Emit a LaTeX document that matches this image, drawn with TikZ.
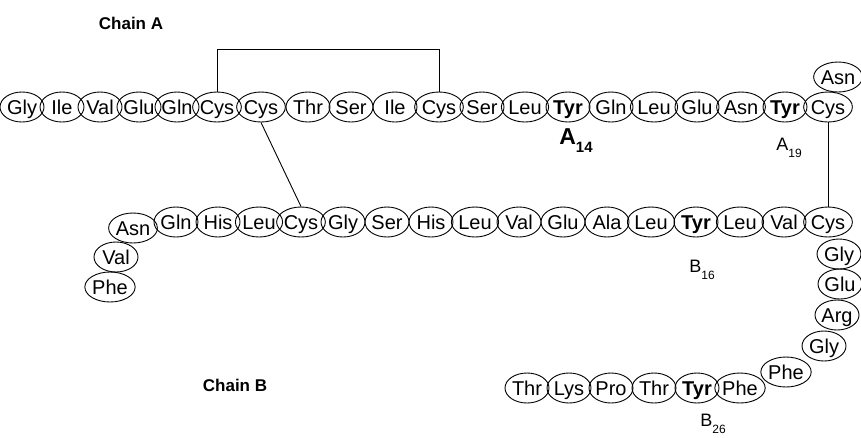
\documentclass[tikz,border=0pt]{standalone}
\usepackage{fontspec}
\setmainfont{Liberation Sans}
\usetikzlibrary{shapes.geometric}
\newcommand{\sublab}[2]{#1\raisebox{-0.35em}{\fontsize{12}{12}\selectfont #2}}
\begin{document}
\begin{tikzpicture}[x=1pt,y=-1pt,
  aa/.style={ellipse, draw, line width=0.9pt, minimum width=44pt, minimum height=30pt, inner sep=0pt, text height=14pt, text depth=0pt, font=\fontsize{20}{20}\selectfont},
  tyr/.style={aa, font=\fontsize{20}{20}\selectfont\bfseries},
  chain/.style={font=\fontsize{17}{17}\selectfont\bfseries},
  poslab/.style={font=\fontsize{18}{18}\selectfont, inner sep=0pt},
  bond/.style={line width=0.9pt}]
\useasboundingbox (0,0) rectangle (861,437);
% Chain A
\foreach \n/\x/\t in {a1/22/Gly, a2/62/Ile, a3/100/Val, a4/139/Glu, a5/177/Gln, a6/217/Cys, a7/261/Cys, a8/308/Thr, a9/351/Ser, a10/395/Ile, a11/439/Cys, a12/482/Ser, a13/525/Leu, a15/611/Gln, a16/654/Leu, a17/697/Glu, a18/741/Asn, a20/828/Cys}
  \node[aa] (\n) at (\x,107) {\t};
\node[tyr] (a14) at (568,107) {Tyr};
\node[tyr] (a19) at (785,107) {Tyr};
\node[aa] (a21) at (838,77) {Asn};
% Chain B
\node[aa] (b1) at (110,287) {Phe};
\node[aa] (b2) at (116,257) {Val};
\node[aa] (b3) at (133,228) {Asn};
\foreach \n/\x/\t in {b4/176/Gln, b5/218/His, b6/259/Leu, b7/301/Cys, b8/343/Gly, b9/387/Ser, b10/431/His, b11/475/Leu, b12/519/Val, b13/563/Glu, b14/607/Ala, b15/651/Leu, b17/740/Leu, b18/784/Val, b19/828/Cys}
  \node[aa] (\n) at (\x,222) {\t};
\node[tyr] (b16) at (696,222) {Tyr};
\node[aa] (b20) at (839,254) {Gly};
\node[aa] (b21) at (840,284) {Glu};
\node[aa] (b22) at (837,315) {Arg};
\node[aa] (b23) at (824,346) {Gly};
\node[aa] (b24) at (786,372) {Phe};
\foreach \n/\x/\t in {b25/740/Phe, b27/654/Thr, b28/611/Pro, b29/569/Lys, b30/527/Thr}
  \node[aa] (\n) at (\x,388) {\t};
\node[tyr] (b26) at (697,388) {Tyr};
% Disulfide bridges
\coordinate (top6) at (a6.north |- 0,49);
\coordinate (top11) at (a11.north |- 0,49);
\draw[bond] (a6.north) -- (top6) -- (top11) -- (a11.north);
\draw[bond] (a7.south) -- (b7.north);
\draw[bond] (a20.south) -- (b19.north);
% Labels
\node[chain] (lca) at (131,23) {Chain A};
\node[chain] (lcb) at (235,385) {Chain B};
\node[inner sep=0pt] (l14) at (576,141) {\fontsize{23}{23}\selectfont\bfseries A\raisebox{-0.35em}{\fontsize{15}{15}\selectfont 14}};
\node[poslab] (l19) at (789,148) {\sublab{A}{19}};
\node[poslab] (l16) at (702,270) {\sublab{B}{16}};
\node[poslab] (l26) at (713,424) {\sublab{B}{26}};
\end{tikzpicture}
\end{document}
